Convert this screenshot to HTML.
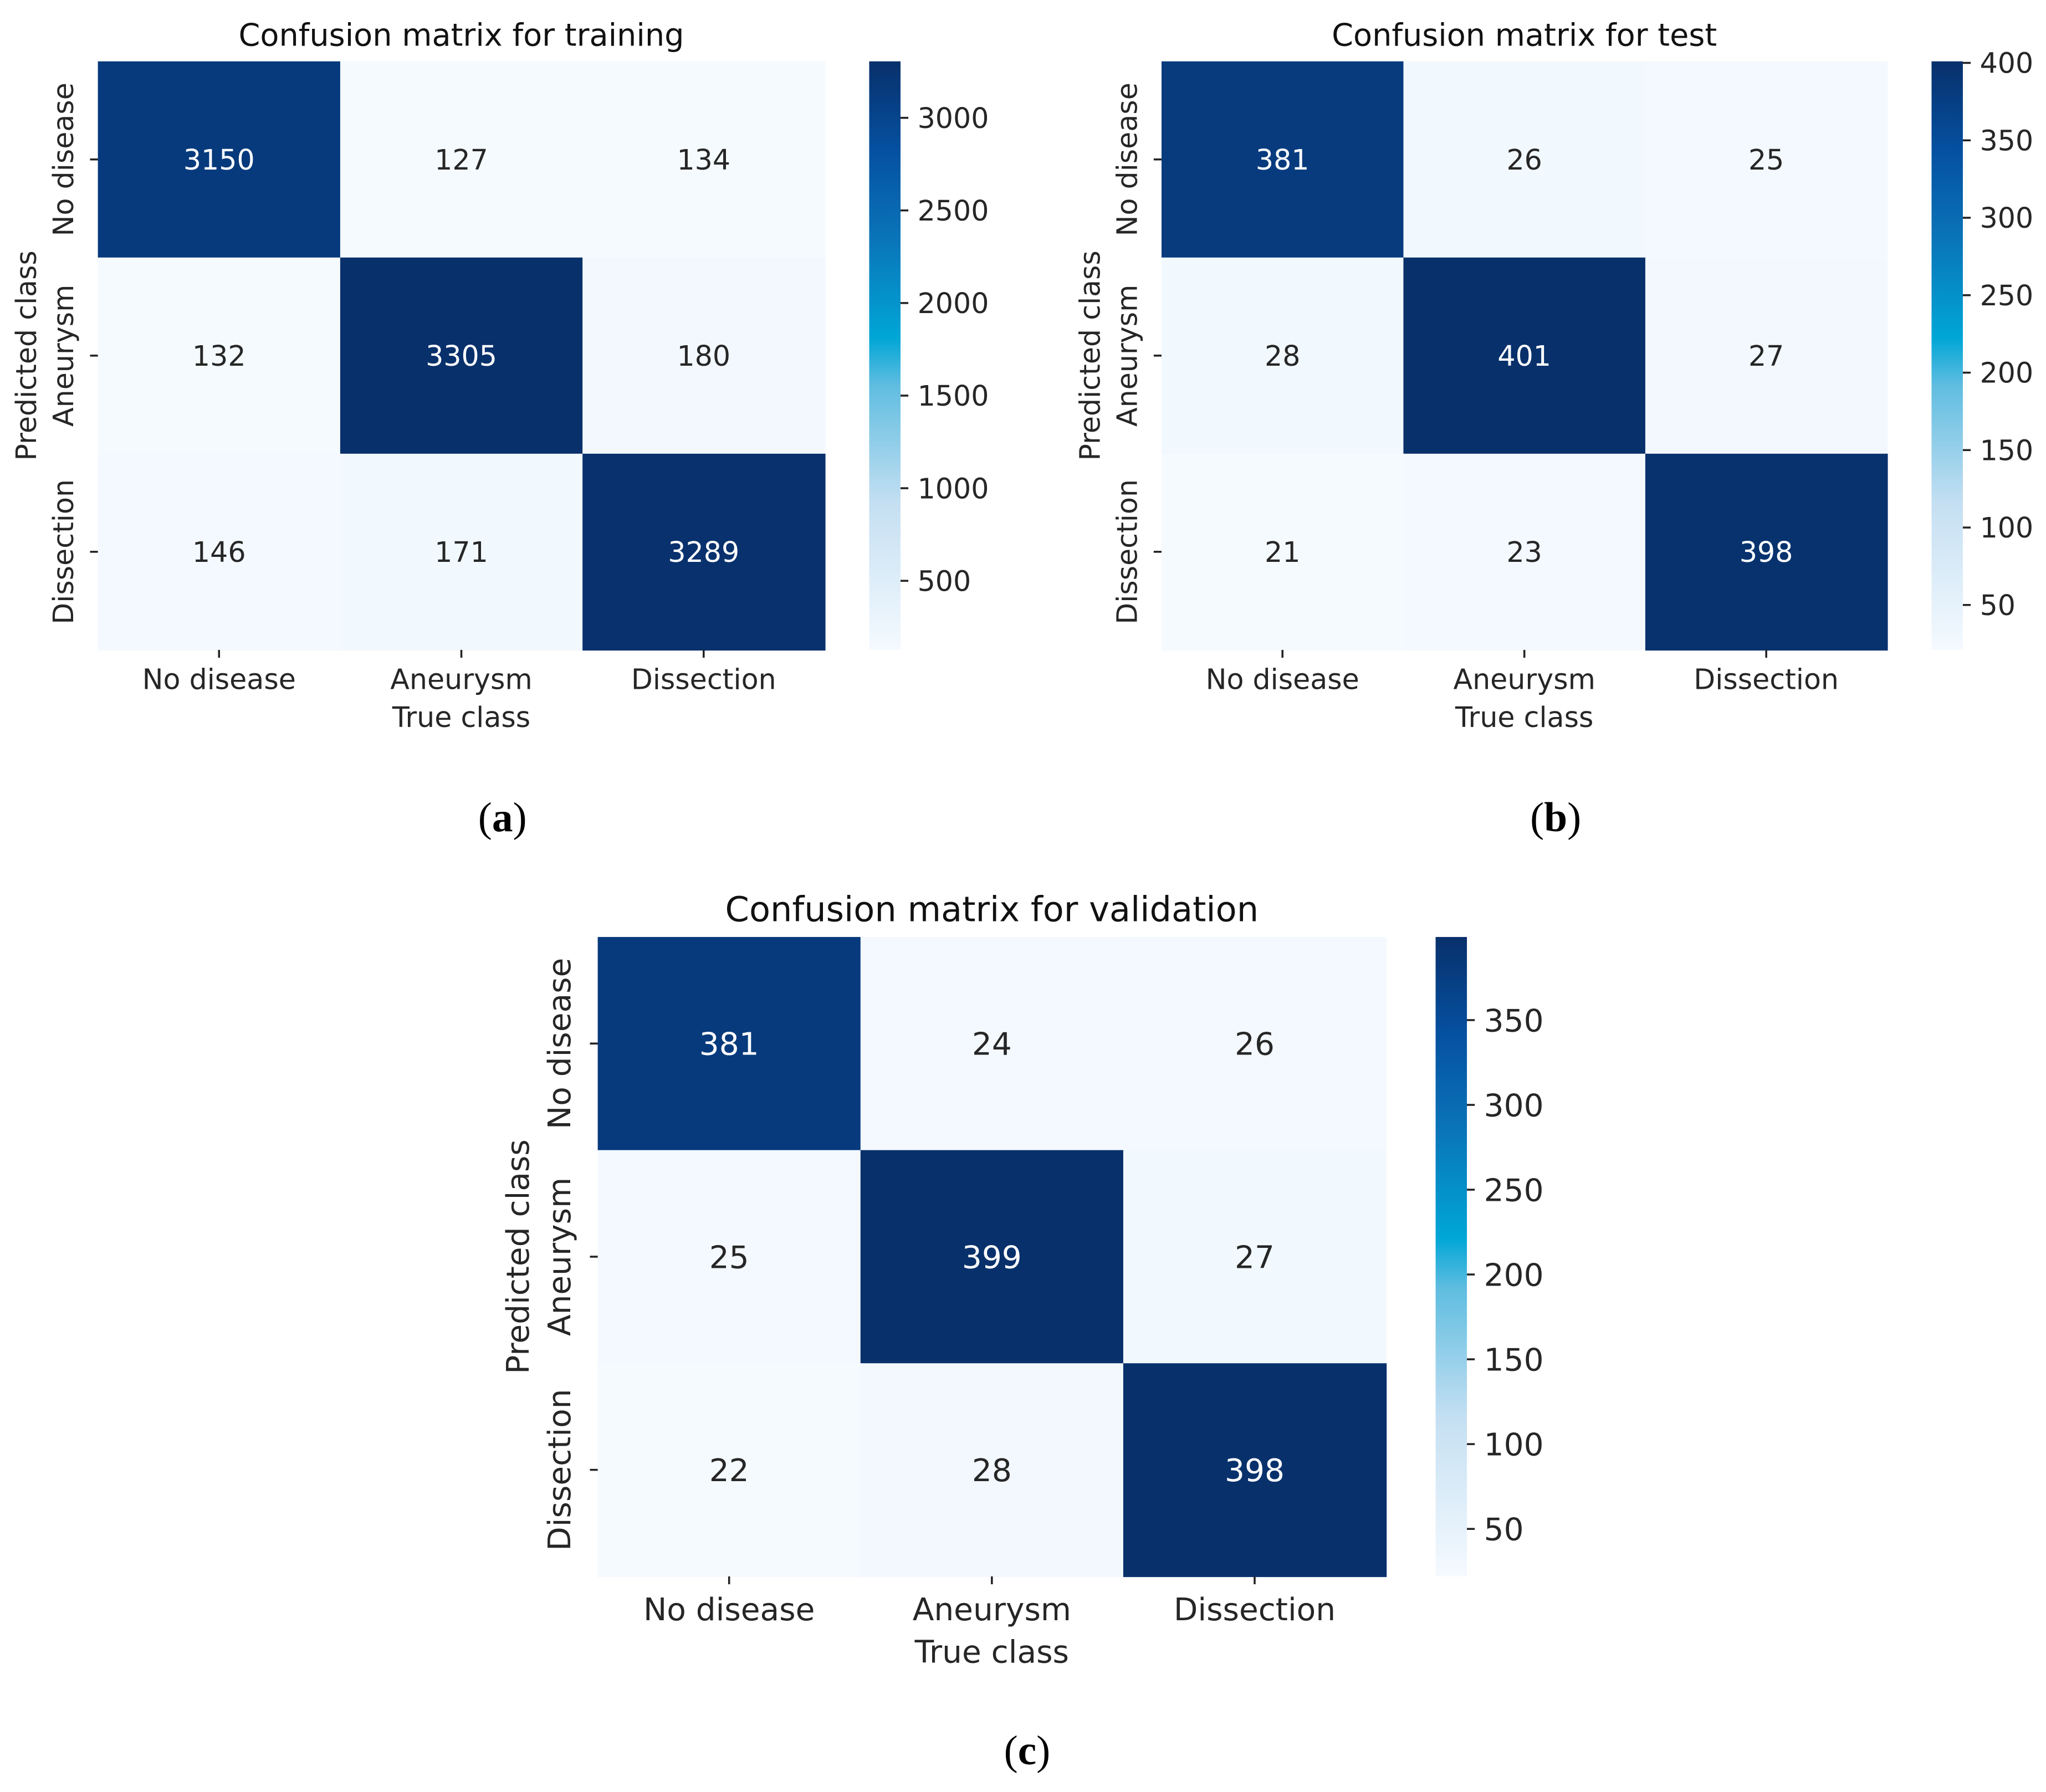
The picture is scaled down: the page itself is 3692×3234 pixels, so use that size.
<!DOCTYPE html>
<html><head><meta charset="utf-8"><style>html,body{margin:0;padding:0;background:#fff}svg{display:block}</style></head>
<body>
<svg id="fig" xmlns="http://www.w3.org/2000/svg" width="3692" height="3234" viewBox="0 0 1567.7 1373.2" font-family="DejaVu Sans, Liberation Sans, sans-serif">
<defs>
<linearGradient id="cbg" x1="0" y1="1" x2="0" y2="0">
<stop offset="0" stop-color="#f5faff"/><stop offset="0.25" stop-color="#c4dff2"/><stop offset="0.45" stop-color="#5fbde0"/><stop offset="0.53" stop-color="#00a6d6"/><stop offset="0.7" stop-color="#0a74b8"/><stop offset="0.85" stop-color="#0550a0"/><stop offset="1" stop-color="#08306b"/>
</linearGradient>
</defs>
<rect width="1567.7" height="1373.2" fill="#fff"/>
</svg>
<script>
const classLabels = ["No disease","Aneurysm","Dissection"];
const trainValues = [[3150,127,134],[132,3305,180],[146,171,3289]];
const trainTicks = [500,1000,1500,2000,2500,3000];
const testValues = [[381,26,25],[28,401,27],[21,23,398]];
const testTicks = [50,100,150,200,250,300,350,400];
const valValues = [[381,24,26],[25,399,27],[22,28,398]];
const valTicks = [50,100,150,200,250,300,350];

const NS="http://www.w3.org/2000/svg";
const svg=document.getElementById('fig');
function mk(tag,attrs,parent){const e=document.createElementNS(NS,tag);for(const k in attrs)e.setAttribute(k,attrs[k]);(parent||svg).appendChild(e);return e;}
const stops=[[0,[245,250,255]],[0.25,[196,223,242]],[0.45,[95,189,224]],[0.53,[0,166,214]],[0.7,[10,116,184]],[0.85,[5,80,160]],[1,[8,48,107]]];
function cmap(t){t=Math.max(0,Math.min(1,t));for(let i=1;i<stops.length;i++){if(t<=stops[i][0]){const a=stops[i-1],b=stops[i];const f=(t-a[0])/(b[0]-a[0]);const c=a[1].map((v,j)=>Math.round(v+(b[1][j]-v)*f));return 'rgb('+c.join(',')+')';}}return 'rgb(8,48,107)';}

function heat(cfg,values,ticks){
  const g=mk('g',{});
  
  
  let mn=Infinity,mx=-Infinity;values.flat().forEach(v=>{mn=Math.min(mn,v);mx=Math.max(mx,v);});
  const cw=(cfg.x1-cfg.x0)/3,ch=(cfg.y1-cfg.y0)/3;
  const xs=j=>cfg.x0+cw*j, ys=i=>cfg.y0+ch*i;
  values.forEach((row,i)=>row.forEach((v,j)=>{
    const t=(v-mn)/(mx-mn);
    const r=mk('rect',{x:xs(j),y:ys(i),width:cw+0.5,height:ch+0.5,fill:cmap(t)},g);
    
    
    const tx=mk('text',{x:xs(j)+cw/2,y:ys(i)+ch/2+cfg.fs*0.36,'text-anchor':'middle','font-size':cfg.fs,fill:t>0.5?'#fff':'#262626'},g);
    tx.textContent=v;
    
    
  }));
  classLabels.forEach((lab,k)=>{
    const cx=xs(k)+cw/2, cy=ys(k)+ch/2;
    mk('line',{x1:cx,y1:cfg.y1,x2:cx,y2:cfg.y1+6,stroke:'#222','stroke-width':1.5},g);
    const xt=mk('text',{x:cx,y:cfg.y1+cfg.fs*1.4,'text-anchor':'middle','font-size':cfg.fs,fill:'#262626'},g);
    xt.textContent=lab;
    
    
    mk('line',{x1:cfg.x0-6,y1:cy,x2:cfg.x0,y2:cy,stroke:'#222','stroke-width':1.5},g);
    const yx=cfg.x0-cfg.fs*0.88;
    const yt=mk('text',{x:yx,y:cy,'text-anchor':'middle','font-size':cfg.fs,fill:'#262626',transform:'rotate(-90 '+yx+' '+cy+')'},g);
    yt.textContent=lab;
    
    
  });
  const xl=mk('text',{x:(cfg.x0+cfg.x1)/2,y:cfg.y1+cfg.fs*2.75,'text-anchor':'middle','font-size':cfg.fs,fill:'#262626'},g);
  xl.textContent='True class';
  
  
  const lx=cfg.x0-cfg.fs*2.2, ly=(cfg.y0+cfg.y1)/2;
  const yl=mk('text',{x:lx,y:ly,'text-anchor':'middle','font-size':cfg.fs,fill:'#262626',transform:'rotate(-90 '+lx+' '+ly+')'},g);
  yl.textContent='Predicted class';
  
  
  const ti=mk('text',{x:(cfg.x0+cfg.x1)/2,y:cfg.y0-12,'text-anchor':'middle','font-size':cfg.fs*1.1,fill:'#111'},g);
  ti.textContent=cfg.title;
  
  
  const cb=mk('rect',{x:cfg.cb,y:cfg.y0,width:24,height:cfg.y1-cfg.y0,fill:'url(#cbg)'},g);
  
  
  const cy=v=>cfg.y1-(v-mn)/(mx-mn)*(cfg.y1-cfg.y0);
  ticks.forEach(v=>{
    mk('line',{x1:cfg.cb+24,y1:cy(v),x2:cfg.cb+30,y2:cy(v),stroke:'#222','stroke-width':1.5},g);
    const t=mk('text',{x:cfg.cb+37,y:cy(v)+cfg.fs*0.36,'font-size':cfg.fs,fill:'#262626'},g);
    t.textContent=v;
    
    
  });
  const cap=mk('text',{x:cfg.capx,y:cfg.capy,'text-anchor':'middle','font-size':32,'font-family':'Liberation Serif, serif',fill:'#000'},g);
  cap.innerHTML='(<tspan font-weight="bold">'+cfg.letter+'</tspan>)';
  
  
}
heat({name:'training-heatmap',title:'Confusion matrix for training',x0:75,x1:632,y0:47,y1:498,cb:666,fs:21.5,capx:385,capy:637,letter:'a'},trainValues,trainTicks);
heat({name:'test-heatmap',title:'Confusion matrix for test',x0:890,x1:1446,y0:47,y1:498,cb:1480,fs:21.5,capx:1192,capy:637,letter:'b'},testValues,testTicks);
heat({name:'validation-heatmap',title:'Confusion matrix for validation',x0:458,x1:1062,y0:718,y1:1208,cb:1100,fs:24,capx:787,capy:1352,letter:'c'},valValues,valTicks);
</script>
</body></html>
